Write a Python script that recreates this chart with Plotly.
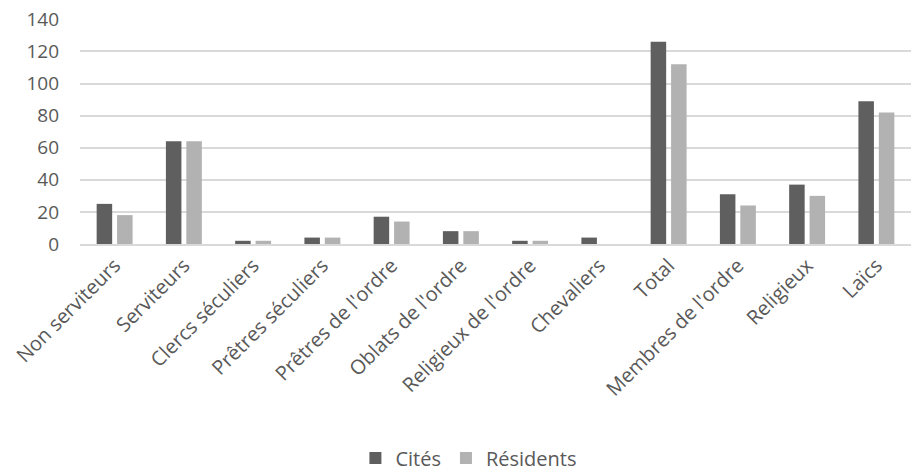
import plotly.graph_objects as go

categories = ["Non serviteurs", "Serviteurs", "Clercs séculiers", "Prêtres séculiers",
              "Prêtres de l'ordre", "Oblats de l'ordre", "Religieux de l'ordre", "Chevaliers",
              "Total", "Membres de l'ordre", "Religieux", "Laïcs"]
cites = [25, 64, 2, 4, 17, 8, 2, 4, 126, 31, 37, 89]
residents = [18, 64, 2, 4, 14, 8, 2, 0, 112, 24, 30, 82]
y_ticks = [0, 20, 40, 60, 80, 100, 120, 140]

FONT = "Open Sans"
TXT = "#595959"

fig = go.Figure()
fig.add_trace(go.Bar(name="Cités", x=categories, y=cites, marker_color="#5f5f5f",
                     marker_line_width=0))
fig.add_trace(go.Bar(name="Résidents", x=categories, y=residents, marker_color="#b2b2b2",
                     marker_line_width=0))

fig.update_layout(
    width=912, height=473,
    margin=dict(l=80, r=1, t=19, b=229, autoexpand=False),
    paper_bgcolor="white", plot_bgcolor="white",
    barmode="group", bargap=0.41, bargroupgap=0.24,
    font=dict(family=FONT, color=TXT, size=20),
    showlegend=True,
    legend=dict(orientation="h", x=0.468, xanchor="center", y=-0.951, yanchor="middle",
                font=dict(size=20, color=TXT), itemwidth=30, traceorder="normal"),
    xaxis=dict(tickangle=-45, showgrid=False, showline=True, linecolor="#d9d9d9",
               linewidth=2, ticks="", automargin=False, tickfont=dict(size=20, color=TXT)),
    yaxis=dict(range=[0, 140.2], tickvals=y_ticks, showgrid=True, gridcolor="#d9d9d9",
               gridwidth=2, zeroline=False, showline=False, ticks="", automargin=False,
               ticklabeloverflow="allow", ticklabelstandoff=20,
               tickfont=dict(size=19, color=TXT)),
)

fig.write_html("out.html",
               config={"displayModeBar": False},
               post_script="document.body.style.margin='0';document.body.style.padding='0';")
